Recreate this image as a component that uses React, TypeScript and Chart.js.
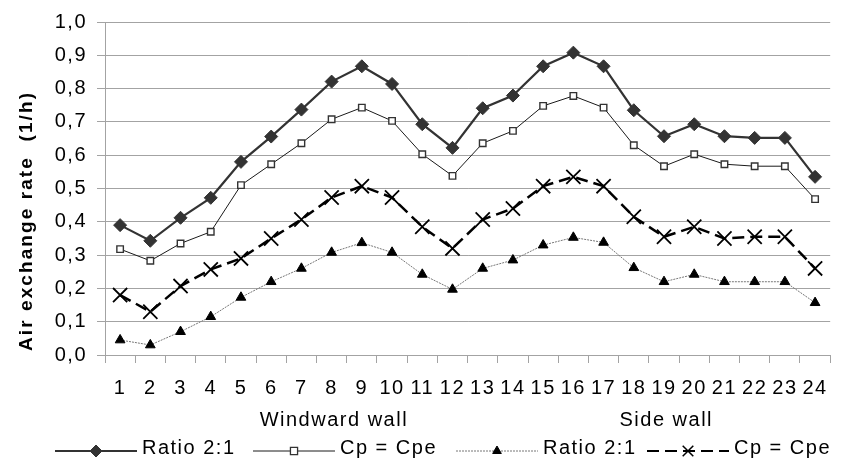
import React, { useEffect, useRef } from 'react';
import { Chart, registerables } from 'chart.js';

Chart.register(...registerables);

const categories = ['1','2','3','4','5','6','7','8','9','10','11','12','13','14','15','16','17','18','19','20','21','22','23','24'];
const groupLabels = ['Windward wall', 'Side wall'];
const seriesNames = ['Ratio 2:1', 'Cp = Cpe', 'Ratio 2:1', 'Cp = Cpe'];
const yTitle = 'Air exchange rate  (1/h)';

const ratioUpper = [0.39, 0.343, 0.412, 0.472, 0.58, 0.656, 0.737, 0.821, 0.867, 0.814, 0.693, 0.622, 0.741, 0.779, 0.867, 0.908, 0.867, 0.735, 0.657, 0.693, 0.657, 0.652, 0.652, 0.535];
const cpUpper = [0.318, 0.283, 0.335, 0.37, 0.51, 0.573, 0.636, 0.708, 0.743, 0.703, 0.603, 0.538, 0.636, 0.673, 0.748, 0.778, 0.743, 0.63, 0.567, 0.603, 0.573, 0.567, 0.567, 0.468];
const ratioLower = [0.045, 0.03, 0.07, 0.115, 0.173, 0.22, 0.26, 0.308, 0.337, 0.308, 0.242, 0.197, 0.26, 0.285, 0.33, 0.353, 0.338, 0.262, 0.22, 0.242, 0.22, 0.22, 0.22, 0.157];
const cpLower = [0.18, 0.13, 0.207, 0.257, 0.29, 0.35, 0.407, 0.473, 0.507, 0.473, 0.385, 0.32, 0.407, 0.44, 0.507, 0.535, 0.507, 0.415, 0.355, 0.385, 0.35, 0.355, 0.355, 0.26];

const FONT = '"Liberation Sans", Arial, sans-serif';
const FS = 20;
const SPACING = 1.5;
const GRID = '#a3a3a3';

type MarkerStyle = 'rectRot' | 'rect' | 'triangle' | 'crossRot';

const legendStyles = [
  { line: '#333333', width: 2.2, dash: [] as number[], marker: 'rectRot' as MarkerStyle, r: 6, fill: '#333333', stroke: '#333333', lw: 1 },
  { line: '#1a1a1a', width: 1, dash: [] as number[], marker: 'rect' as MarkerStyle, r: 3.6, fill: '#ffffff', stroke: '#333333', lw: 1.3 },
  { line: '#777777', width: 1, dash: [2, 1], marker: 'triangle' as MarkerStyle, r: 5, fill: '#000000', stroke: '#000000', lw: 1 },
  { line: '#000000', width: 2, dash: [12, 6], marker: 'crossRot' as MarkerStyle, r: 7.5, fill: '', stroke: '#000000', lw: 1.5 },
];
const legendX = [55, 253, 456, 647];
const LEGEND_LINE = 82;
const groupCentres = [7.05, 18.05];
const TITLE_LENGTH = 258;

function drawMarker(ctx: CanvasRenderingContext2D, style: MarkerStyle, x: number, y: number, r: number, fill: string, stroke: string, lw: number) {
  ctx.save();
  ctx.setLineDash([]);
  ctx.beginPath();
  if (style === 'rectRot') {
    ctx.moveTo(x, y - r); ctx.lineTo(x + r, y); ctx.lineTo(x, y + r); ctx.lineTo(x - r, y); ctx.closePath();
  } else if (style === 'rect') {
    const s = r * Math.SQRT1_2 * 1.4;
    ctx.rect(x - s, y - s, 2 * s, 2 * s);
  } else if (style === 'triangle') {
    const a = (2 * Math.PI) / 3;
    ctx.moveTo(x, y - r);
    ctx.lineTo(x + Math.sin(a) * r, y - Math.cos(a) * r);
    ctx.lineTo(x + Math.sin(2 * a) * r, y - Math.cos(2 * a) * r);
    ctx.closePath();
  } else {
    const o = r * Math.SQRT1_2;
    ctx.moveTo(x - o, y - o); ctx.lineTo(x + o, y + o);
    ctx.moveTo(x - o, y + o); ctx.lineTo(x + o, y - o);
  }
  ctx.lineWidth = lw;
  ctx.strokeStyle = stroke;
  if (fill) { ctx.fillStyle = fill; ctx.fill(); }
  ctx.stroke();
  ctx.restore();
}

const spacingPlugin = {
  id: 'spacing',
  beforeUpdate(chart: any) { chart.ctx.letterSpacing = SPACING + 'px'; },
  beforeDraw(chart: any) { chart.ctx.letterSpacing = SPACING + 'px'; },
};

const extrasPlugin = {
  id: 'extras',
  afterDraw(chart: any) {
    const ctx: CanvasRenderingContext2D = chart.ctx;
    const xs = chart.scales.x;
    const ys = chart.scales.y;
    ctx.save();
    let size = 19;
    ctx.font = `bold ${size}px ${FONT}`;
    (ctx as any).letterSpacing = '0px';
    const w0 = ctx.measureText(yTitle).width;
    let sp = (TITLE_LENGTH - w0) / (yTitle.length - 1);
    if (sp < 0) {
      size = size * TITLE_LENGTH / w0;
      ctx.font = `bold ${size}px ${FONT}`;
      sp = 0;
    }
    (ctx as any).letterSpacing = sp + 'px';
    ctx.fillStyle = '#000';
    ctx.translate(27, ys.bottom - 4);
    ctx.rotate(-Math.PI / 2);
    ctx.textAlign = 'left';
    ctx.textBaseline = 'middle';
    ctx.fillText(yTitle, 0, 0);
    ctx.restore();

    ctx.save();
    (ctx as any).letterSpacing = SPACING + 'px';
    ctx.font = `${FS}px ${FONT}`;
    ctx.fillStyle = '#000';
    ctx.textBaseline = 'middle';
    ctx.textAlign = 'center';
    groupLabels.forEach((g, i) => {
      const mid = xs.getPixelForValue(groupCentres[i]);
      ctx.fillText(g, mid + SPACING / 2, 420);
    });
    ctx.textAlign = 'left';
    seriesNames.forEach((name, i) => {
      const st = legendStyles[i];
      const x0 = legendX[i];
      const ly = 451;
      ctx.save();
      ctx.beginPath();
      ctx.setLineDash(st.dash);
      ctx.strokeStyle = st.line;
      ctx.lineWidth = st.width;
      ctx.moveTo(x0, ly);
      ctx.lineTo(x0 + LEGEND_LINE, ly);
      ctx.stroke();
      ctx.restore();
      drawMarker(ctx, st.marker, x0 + LEGEND_LINE / 2, ly, st.r, st.fill, st.stroke, st.lw);
      ctx.fillStyle = '#000';
      ctx.fillText(name, x0 + LEGEND_LINE + 5, 448);
    });
    ctx.restore();
  },
};

export default function App() {
  const ref = useRef<HTMLCanvasElement>(null);
  useEffect(() => {
    if (!ref.current) return;
    Chart.defaults.font.family = FONT;
    const chart = new Chart(ref.current, {
      type: 'line',
      data: {
        labels: categories,
        datasets: [
          {
            label: seriesNames[0], data: ratioUpper,
            borderColor: '#333333', backgroundColor: '#333333', borderWidth: 2.2,
            pointStyle: 'rectRot', pointRadius: 6.5, pointBorderWidth: 1,
            pointBackgroundColor: '#333333', pointBorderColor: '#333333', tension: 0,
          },
          {
            label: seriesNames[1], data: cpUpper,
            borderColor: '#1a1a1a', backgroundColor: '#ffffff', borderWidth: 1,
            pointStyle: 'rect', pointRadius: 4.6, pointBorderWidth: 1.4,
            pointBackgroundColor: '#ffffff', pointBorderColor: '#333333', tension: 0,
          },
          {
            label: seriesNames[2], data: ratioLower,
            borderColor: '#777777', backgroundColor: '#000000', borderWidth: 1, borderDash: [2, 1],
            pointStyle: 'triangle', pointRadius: 5.6, pointBorderWidth: 1,
            pointBackgroundColor: '#000000', pointBorderColor: '#000000', tension: 0,
          },
          {
            label: seriesNames[3], data: cpLower,
            borderColor: '#000000', backgroundColor: '#000000', borderWidth: 2.5, borderDash: [12, 6],
            pointStyle: 'crossRot', pointRadius: 10, pointBorderWidth: 1.8,
            pointBorderColor: '#000000', tension: 0,
          },
        ],
      },
      options: {
        animation: false,
        responsive: false,
        events: [],
        layout: { padding: { top: 22, right: 2, bottom: 67, left: 0 } },
        plugins: {
          legend: { display: false },
          tooltip: { enabled: false },
          title: { display: false },
        },
        scales: {
          x: {
            type: 'category',
            offset: true,
            grid: { display: true, offset: true, drawOnChartArea: false, drawTicks: true, tickLength: 8, color: GRID, lineWidth: 1 },
            border: { display: true, color: GRID, width: 1 },
            ticks: { color: '#000', font: { size: FS, family: FONT }, padding: 13, maxRotation: 0, autoSkip: false },
            afterFit: (s: any) => { s.height = 40; },
          },
          y: {
            min: 0, max: 1,
            ticks: {
              stepSize: 0.1,
              color: '#000',
              font: { size: FS, family: FONT },
              padding: 10,
              callback: (v: any) => Number(v).toFixed(1).replace('.', ','),
            },
            grid: { color: GRID, lineWidth: 1, tickLength: 8, drawTicks: true },
            border: { display: true, color: GRID, width: 1 },
            title: { display: false },
            afterFit: (s: any) => { s.width = 105; },
          },
        },
      },
      plugins: [spacingPlugin, extrasPlugin],
    } as any);
    return () => chart.destroy();
  }, []);
  return (
    <div style={{ position: 'fixed', left: 0, top: 0, width: 842, height: 462, background: '#ffffff' }}>
      <canvas ref={ref} width={842} height={462} style={{ display: 'block', width: 842, height: 462 }} />
    </div>
  );
}
